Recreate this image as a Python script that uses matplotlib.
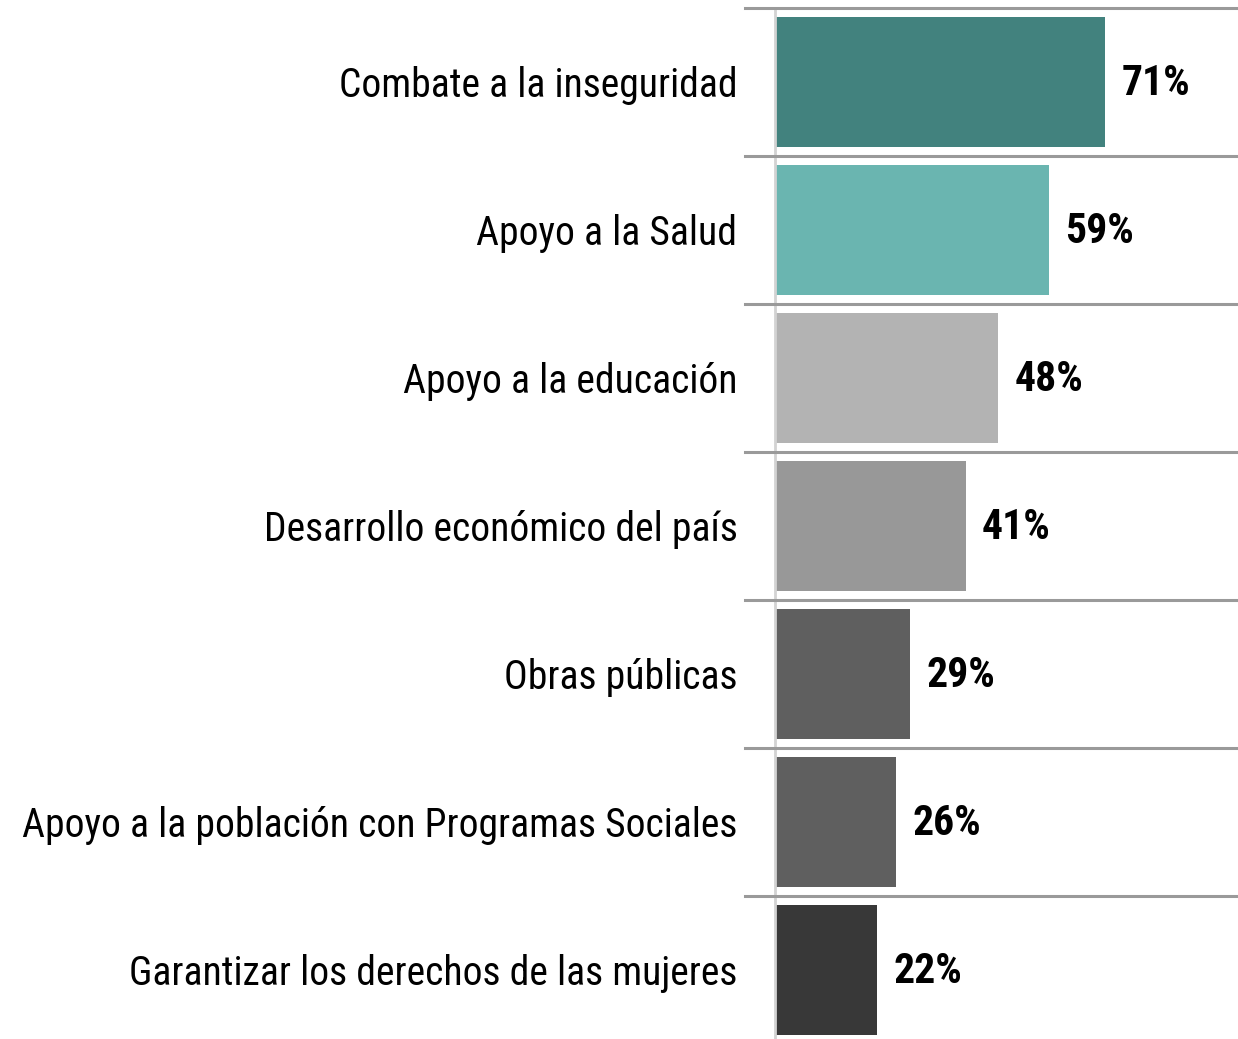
import matplotlib.pyplot as plt
import matplotlib.font_manager as fm

# Datos
categorias = ['Combate a la inseguridad', 'Apoyo a la Salud', 'Apoyo a la educación',
              'Desarrollo económico del país', 'Obras públicas',
              'Apoyo a la población con Programas Sociales',
              'Garantizar los derechos de las mujeres']
valores = [71, 59, 48, 41, 29, 26, 22]
colores = ['#42827E', '#6AB5B0', '#B3B3B3', '#989898', '#5F5F5F', '#5F5F5F', '#383838']


# Buscar una fuente estrecha (tipo Arial Narrow)
def buscar(pred):
    reg, neg = None, None
    for f in fm.fontManager.ttflist:
        if not pred(f) or f.style != 'normal':
            continue
        w = f.weight if isinstance(f.weight, int) else (700 if 'bold' in str(f.weight) else 400)
        if w == 400 and reg is None:
            reg = f.fname
        if w == 700 and neg is None:
            neg = f.fname
    return reg, neg


# (criterio, tamaño categorías, tamaño valores)
opciones = [
    (lambda f: f.name == 'Liberation Sans Narrow', 29, 30),
    (lambda f: f.name == 'Arial Narrow', 29, 30),
    (lambda f: f.name == 'Roboto Condensed', 28.5, 30),
    (lambda f: 'Condensed' in f.name and 'Open Sans' in f.name, 26, 27),
    (lambda f: 'DejaVuSansCondensed' in f.fname.replace('-', ''), 24, 25),
]
fp_reg, fp_bold = None, None
for pred, t1, t2 in opciones:
    r, b = buscar(pred)
    if r:
        fp_reg = fm.FontProperties(fname=r, size=t1)
        fp_bold = fm.FontProperties(fname=b, size=t2) if b else \
            fm.FontProperties(fname=r, weight='bold', size=t2)
        break
if fp_reg is None:
    fp_reg = fm.FontProperties(family='Liberation Sans', size=23)
    fp_bold = fm.FontProperties(family='Liberation Sans', weight='bold', size=24)

fig = plt.figure(figsize=(12.38, 10.39), dpi=100)
H = 1039.0
ax = fig.add_axes([775 / 1238, 1 - 1044 / H, 1 - 775 / 1238, (1044 - 8) / H])

y = list(range(len(categorias)))
ax.barh(y, valores, height=0.88, color=colores, zorder=2)
ax.set_ylim(len(categorias) - 0.5, -0.5)
ax.set_xlim(0, 99.6)

# Líneas divisorias entre categorías
for k in range(len(categorias)):
    ax.axhline(k - 0.5, xmin=-0.065, xmax=1, color='#9A9A9A', linewidth=2.2,
               clip_on=False, zorder=3)

for s in ['top', 'right', 'bottom']:
    ax.spines[s].set_visible(False)
ax.spines['left'].set_color('#D3D3D3')
ax.spines['left'].set_linewidth(2)
ax.set_xticks([])
ax.set_yticks([])

# Etiquetas de categorías
for yi, cat in zip(y, categorias):
    ax.text(-0.081, yi + 0.1, cat, transform=ax.get_yaxis_transform(), ha='right',
            va='baseline', fontproperties=fp_reg, color='black')

# Etiquetas de valores
for yi, v in zip(y, valores):
    ax.text(v + 3.5, yi + 0.09, f'{v}%', ha='left', va='baseline',
            fontproperties=fp_bold, color='black')

plt.savefig('out.png', dpi=100)
